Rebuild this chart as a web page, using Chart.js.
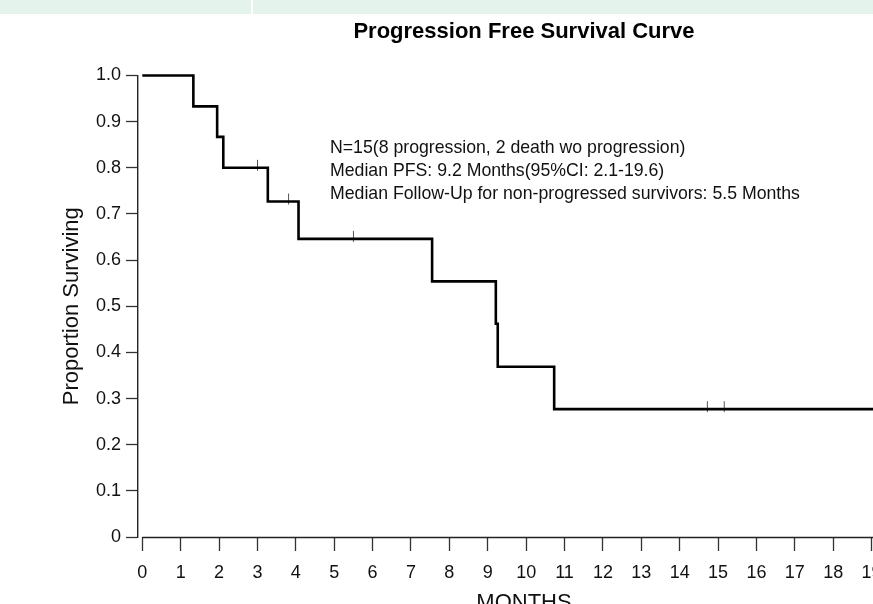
<!DOCTYPE html>
<html>
<head>
<meta charset="utf-8">
<title>Progression Free Survival Curve</title>
<script src="https://cdn.jsdelivr.net/npm/chart.js@4/dist/chart.umd.min.js"></script>
<style>
  html, body { margin: 0; padding: 0; background: #ffffff; overflow: hidden; }
  #wrap { position: absolute; left: 0; top: 0; width: 940px; height: 640px; }
</style>
</head>
<body>
<div id="wrap"><canvas id="km"></canvas></div>
<script>
// Kaplan-Meier estimate: time of each step (months) and survival after it
const stepMonths   = [0, 1.33, 1.95, 2.11, 3.27, 4.07, 7.55, 9.21, 9.26, 10.73];
const stepSurvival = [1.000, 0.933, 0.867, 0.800, 0.727, 0.646, 0.554, 0.462, 0.369, 0.277];
// follow-up of the last patient still at risk
const lastFollowUp = 20;

// censored observations (months, survival at that time)
const censorMonths   = [3.0, 3.81, 5.5, 14.72, 15.16];
const censorSurvival = [0.800, 0.727, 0.646, 0.277, 0.277];

// axis ticks
const monthTicks = [0, 1, 2, 3, 4, 5, 6, 7, 8, 9, 10, 11, 12, 13, 14, 15, 16, 17, 18, 19, 20];
const proportionTicks = [0, 0.1, 0.2, 0.3, 0.4, 0.5, 0.6, 0.7, 0.8, 0.9, 1.0];

// summary printed inside the plot
const noteLines = [
  'N=15(8 progression, 2 death wo progression)',
  'Median PFS: 9.2 Months(95%CI: 2.1-19.6)',
  'Median Follow-Up for non-progressed survivors: 5.5 Months'
];

const FONT = "'Liberation Sans', Arial, Helvetica, sans-serif";

// step curve points
const curvePoints = stepMonths.map((m, i) => ({ x: m, y: stepSurvival[i] }));
curvePoints.push({ x: lastFollowUp, y: stepSurvival[stepSurvival.length - 1] });

const censorPoints = censorMonths.map((m, i) => ({ x: m, y: censorSurvival[i] }));

// censor mark: short vertical tick sitting mostly above the curve
const censorMark = document.createElement('canvas');
censorMark.width = 3;
censorMark.height = 20;
(function () {
  const c = censorMark.getContext('2d');
  c.strokeStyle = '#555555';
  c.lineWidth = 1;
  c.beginPath();
  c.moveTo(1.5, 2);
  c.lineTo(1.5, 13);
  c.stroke();
})();

const decorations = {
  id: 'decorations',
  beforeDraw(chart) {
    const ctx = chart.ctx;
    ctx.save();
    // header band
    ctx.fillStyle = '#e4f4ec';
    ctx.fillRect(0, 0, chart.width, 14);
    ctx.fillStyle = '#ffffff';
    ctx.fillRect(251, 0, 2, 14);
    ctx.restore();
  },
  afterDraw(chart) {
    const ctx = chart.ctx;
    const xs = chart.scales.x;
    const area = chart.chartArea;
    ctx.save();
    // x axis line starts at month 0
    ctx.strokeStyle = '#222222';
    ctx.lineWidth = 1.4;
    ctx.beginPath();
    ctx.moveTo(xs.getPixelForValue(0), area.bottom + 0.5);
    ctx.lineTo(area.right, area.bottom + 0.5);
    ctx.stroke();
    // summary text
    ctx.fillStyle = '#111111';
    ctx.font = '17.7px ' + FONT;
    ctx.textAlign = 'left';
    ctx.textBaseline = 'middle';
    noteLines.forEach((t, i) => ctx.fillText(t, 330, 148 + i * 23));
    ctx.restore();
  }
};

new Chart(document.getElementById('km'), {
  type: 'line',
  data: {
    datasets: [
      {
        data: curvePoints,
        stepped: 'before',
        borderColor: '#000000',
        borderWidth: 2.6,
        borderCapStyle: 'butt',
        borderJoinStyle: 'miter',
        pointRadius: 0,
        fill: false,
        clip: false
      },
      {
        type: 'scatter',
        data: censorPoints,
        pointStyle: censorMark,
        pointRadius: 6,
        showLine: false,
        clip: false
      }
    ]
  },
  options: {
    responsive: true,
    maintainAspectRatio: false,
    animation: false,
    events: [],
    layout: { padding: { left: 0, top: 0, right: 30, bottom: 0 } },
    plugins: {
      legend: { display: false },
      tooltip: { enabled: false },
      title: {
        display: true,
        fullSize: false,
        text: 'Progression Free Survival Curve',
        color: '#000000',
        font: { family: FONT, size: 22, weight: 'bold', lineHeight: 1.2 },
        padding: { top: 18.7, bottom: 30.4 }
      }
    },
    scales: {
      x: {
        type: 'linear',
        position: 'bottom',
        min: -0.112,
        max: lastFollowUp,
        afterBuildTicks(scale) { scale.ticks = monthTicks.map(v => ({ value: v })); },
        afterFit(scale) {
          scale.height = 103;
          scale.paddingLeft = 0;
          scale.paddingRight = 0;
        },
        border: { display: false },
        grid: {
          drawOnChartArea: false,
          drawTicks: true,
          tickLength: 14,
          tickColor: '#333333',
          tickWidth: 1.3
        },
        ticks: {
          autoSkip: false,
          maxRotation: 0,
          padding: 11,
          color: '#111111',
          font: { family: FONT, size: 18 },
          callback: v => String(v)
        },
        title: {
          display: true,
          text: 'MONTHS',
          color: '#111111',
          font: { family: FONT, size: 22, lineHeight: 1.2 },
          padding: { top: 0, bottom: 24 }
        }
      },
      y: {
        type: 'linear',
        min: 0,
        max: 1,
        afterBuildTicks(scale) { scale.ticks = proportionTicks.map(v => ({ value: v })); },
        afterFit(scale) {
          scale.width = 138;
          scale.paddingTop = 0;
          scale.paddingBottom = 0;
        },
        border: { display: true, color: '#222222', width: 1.4 },
        grid: {
          drawOnChartArea: false,
          drawTicks: true,
          tickLength: 12,
          tickColor: '#333333',
          tickWidth: 1.3
        },
        ticks: {
          autoSkip: false,
          padding: 5,
          color: '#111111',
          font: { family: FONT, size: 18 },
          callback: v => (v === 0 ? '0' : v.toFixed(1))
        },
        title: {
          display: true,
          text: 'Proportion Surviving',
          color: '#111111',
          font: { family: FONT, size: 22, lineHeight: 1.2 },
          padding: { top: 58.8, bottom: 0 }
        }
      }
    }
  },
  plugins: [decorations]
});
</script>
</body>
</html>
